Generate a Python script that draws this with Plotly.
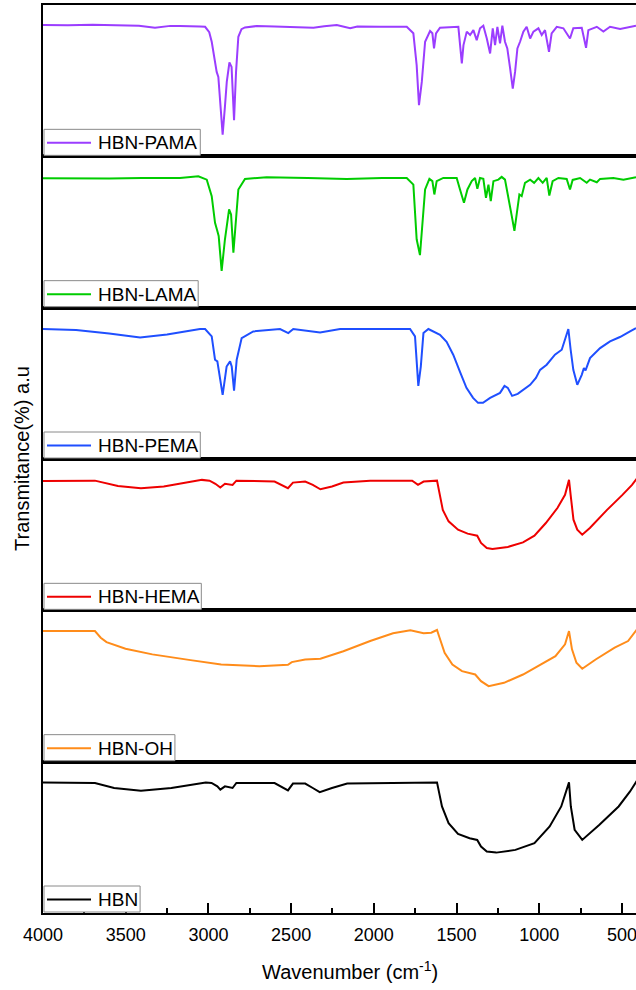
import plotly.graph_objects as go
from plotly.subplots import make_subplots

# FTIR spectra (wavenumber in cm-1, transmittance in arbitrary units per panel)
WN_PAMA = [4000, 3850, 3700, 3550, 3420, 3323, 3230, 3172, 3100, 3051, 3020, 2995, 2980, 2960, 2950, 2940,
           2928, 2914, 2900, 2889, 2873, 2860, 2845, 2833, 2819, 2800, 2779, 2708, 2600, 2500, 2365, 2300,
           2224, 2143, 2100, 1962, 1801, 1761, 1741, 1727, 1710, 1690, 1660, 1646, 1636, 1624, 1600, 1489,
           1468, 1458, 1438, 1418, 1398, 1378, 1358, 1338, 1317, 1297, 1281, 1267, 1253, 1237, 1223, 1207,
           1193, 1176, 1160, 1146, 1132, 1116, 1096, 1076, 1055, 1035, 1005, 985, 965, 941, 925, 894,
           854, 814, 794, 743, 717, 703, 652, 612, 572, 511, 461, 415]
T_PAMA = [86.8, 86.6, 86.9, 86.5, 86.3, 85.0, 86.2, 86.1, 86.2, 85.8, 85.6, 82.0, 75.7, 60.3, 55.8, 52.5,
          35.0, 14.3, 33.0, 49.2, 62.0, 59.1, 23.8, 55.8, 79.0, 84.0, 85.2, 86.1, 85.8, 85.5, 85.0, 86.0,
          86.8, 84.6, 85.8, 85.6, 85.6, 81.3, 60.3, 33.8, 49.2, 75.7, 82.8, 81.3, 71.3, 81.3, 85.0, 85.6,
          61.4, 73.5, 82.4, 80.2, 83.4, 76.8, 84.6, 86.3, 77.9, 68.0, 84.6, 73.5, 85.6, 74.6, 86.3, 75.7,
          71.3, 58.1, 44.8, 55.8, 71.3, 75.7, 82.4, 85.6, 77.9, 82.4, 84.6, 80.2, 83.4, 69.1, 81.3, 85.6,
          84.6, 77.9, 84.6, 85.0, 71.7, 83.4, 85.6, 82.4, 85.6, 84.1, 85.0, 86.3]

WN_LAMA = [4000, 3800, 3600, 3400, 3200, 3172, 3061, 3010, 2980, 2960, 2946, 2938, 2920, 2900, 2875, 2863,
           2849, 2835, 2819, 2779, 2648, 2400, 2164, 1950, 1801, 1761, 1741, 1721, 1707, 1690, 1664, 1646,
           1634, 1620, 1580, 1499, 1479, 1455, 1434, 1408, 1388, 1374, 1358, 1338, 1322, 1307, 1293, 1277,
           1247, 1227, 1207, 1187, 1166, 1150, 1136, 1120, 1106, 1086, 1055, 1031, 1005, 979, 955, 939,
           919, 884, 834, 814, 798, 753, 713, 693, 652, 632, 552, 491, 415]
T_LAMA = [85.5, 85.7, 85.4, 85.6, 85.7, 85.7, 86.8, 84.6, 73.7, 56.1, 50.7, 47.4, 24.3, 45.2, 64.9, 61.6,
          36.4, 56.1, 78.1, 85.1, 86.2, 85.6, 85.1, 85.7, 85.7, 81.3, 45.2, 34.7, 56.1, 78.1, 85.1, 83.6,
          74.8, 83.6, 85.7, 85.7, 78.1, 69.3, 78.1, 83.6, 85.7, 78.5, 85.7, 85.1, 72.6, 81.3, 70.4, 83.6,
          84.6, 86.4, 84.6, 73.7, 60.5, 50.7, 60.5, 74.8, 73.7, 82.5, 84.6, 82.5, 85.7, 82.5, 85.7, 74.1,
          83.6, 85.7, 85.1, 78.1, 84.4, 85.7, 82.5, 84.6, 82.9, 85.1, 85.7, 84.6, 86.2]

WN_PEMA = [4000, 3800, 3600, 3413, 3250, 3172, 3051, 3020, 2980, 2960, 2946, 2914, 2890, 2869, 2859, 2845,
           2829, 2799, 2729, 2567, 2517, 2487, 2400, 2325, 2204, 1950, 1781, 1751, 1741, 1731, 1716, 1700,
           1670, 1640, 1600, 1560, 1520, 1479, 1440, 1400, 1370, 1340, 1297, 1237, 1210, 1190, 1164, 1130,
           1090, 1055, 1020, 995, 955, 905, 864, 838, 824, 810, 794, 770, 743, 730, 720, 693, 632, 572,
           512, 451, 415]
T_PEMA = [85.9, 85.2, 83.0, 80.3, 82.2, 83.6, 85.9, 85.9, 81.0, 65.6, 64.5, 42.4, 61.1, 64.5, 61.1, 45.2,
          65.6, 79.9, 84.3, 85.9, 83.2, 85.9, 84.8, 83.6, 85.9, 86.0, 85.9, 81.0, 61.1, 48.3, 61.1, 83.2,
          85.9, 84.3, 82.1, 77.5, 68.9, 57.6, 47.0, 40.4, 37.1, 37.1, 40.4, 43.7, 48.3, 47.0, 41.7, 43.0,
          46.4, 49.0, 53.6, 58.9, 62.3, 68.9, 72.2, 81.0, 85.9, 72.2, 58.9, 49.0, 55.6, 60.1, 58.6, 66.7,
          73.3, 77.7, 80.6, 84.3, 86.5]

WN_HEMA = [4000, 3686, 3547, 3408, 3270, 3039, 2993, 2958, 2928, 2900, 2854, 2831, 2600, 2554, 2519, 2489,
           2415, 2369, 2323, 2253, 2184, 2022, 1768, 1733, 1699, 1618, 1606, 1583, 1548, 1491, 1433, 1375,
           1352, 1317, 1283, 1190, 1098, 1029, 960, 890, 844, 832, 820, 809, 793, 770, 740, 694, 590,
           497, 439, 409]
T_HEMA = [85.5, 85.7, 82.2, 80.7, 81.8, 86.2, 85.7, 83.6, 81.1, 83.6, 82.9, 85.7, 85.1, 82.9, 80.7, 84.4,
          85.1, 82.9, 80.0, 81.8, 84.4, 85.7, 85.7, 82.9, 85.1, 85.7, 79.6, 66.4, 58.8, 53.3, 50.7, 49.3,
          44.5, 41.2, 40.6, 41.9, 44.9, 49.3, 57.7, 67.6, 76.3, 80.7, 86.2, 75.2, 59.9, 53.3, 50.0, 54.4,
          66.4, 76.3, 82.9, 87.3]

WN_OH = [4000, 3686, 3651, 3616, 3501, 3339, 3108, 2923, 2692, 2519, 2496, 2415, 2323, 2184, 2022, 1884,
         1779, 1699, 1653, 1618, 1606, 1572, 1525, 1467, 1387, 1352, 1306, 1213, 1098, 982, 902, 844,
         820, 802, 775, 740, 659, 544, 463, 409]
T_OH = [86.3, 86.3, 81.9, 79.0, 74.6, 70.9, 67.1, 64.2, 63.1, 64.0, 65.8, 67.5, 68.0, 73.0, 79.7, 84.8,
        86.8, 84.8, 85.2, 87.0, 83.0, 72.0, 64.2, 59.8, 57.6, 53.2, 49.9, 52.1, 57.6, 64.9, 69.7, 77.5,
        86.3, 74.2, 65.4, 61.4, 67.5, 75.3, 79.7, 87.4]

WN_HBN = [4000, 3686, 3570, 3408, 3224, 3016, 2981, 2946, 2928, 2900, 2854, 2831, 2600, 2554, 2519, 2489,
          2415, 2369, 2327, 2253, 2161, 1618, 1606, 1588, 1548, 1491, 1421, 1375, 1352, 1317, 1260, 1144,
          1029, 937, 867, 832, 820, 809, 786, 740, 636, 520, 451, 409]
T_HBN = [86.3, 85.9, 82.6, 80.8, 82.6, 86.3, 85.9, 83.7, 81.5, 83.7, 82.6, 85.9, 85.9, 83.2, 81.0, 85.5,
         85.5, 82.6, 79.9, 82.6, 85.5, 86.3, 79.3, 70.4, 59.4, 52.3, 49.4, 48.3, 43.9, 40.6, 39.9, 41.7,
         46.2, 57.2, 70.4, 81.5, 86.3, 70.4, 55.0, 48.3, 58.3, 70.4, 80.3, 87.6]

# panels from top to bottom
NAMES = ["HBN-PAMA", "HBN-LAMA", "HBN-PEMA", "HBN-HEMA", "HBN-OH", "HBN"]
WAVENUMBERS = [WN_PAMA, WN_LAMA, WN_PEMA, WN_HEMA, WN_OH, WN_HBN]
TRANSMITTANCE = [T_PAMA, T_LAMA, T_PEMA, T_HEMA, T_OH, T_HBN]
COLORS = ["#9B3DFF", "#00CC00", "#1F4FFF", "#EE0000", "#FF8C1A", "#000000"]

FONT = "Arial, 'Liberation Sans', sans-serif"
W, H = 636, 990
ML, MR, MT, MB = 43, 0, 5, 77
PW, PH = W - ML - MR, H - MT - MB
n = len(NAMES)

# approximate Arial advance widths (em) for sizing the legend boxes
ARIAL_EM = {"H": 0.722, "B": 0.667, "N": 0.722, "-": 0.333, "P": 0.667, "A": 0.667,
            "M": 0.833, "L": 0.556, "E": 0.667, "O": 0.778}
LEG_FONT = 19


def px_x(p):
    return (p - ML) / PW


def px_y(p):
    return (MT + PH - p) / PH


fig = make_subplots(rows=n, cols=1, shared_xaxes=True, vertical_spacing=0)

shapes, annotations = [], []
panel_h = PH / n
for i in range(n):
    row = i + 1
    fig.add_trace(
        go.Scatter(x=WAVENUMBERS[i], y=TRANSMITTANCE[i], mode="lines", name=NAMES[i],
                   line=dict(color=COLORS[i], width=2), showlegend=False),
        row=row, col=1)
    fig.update_yaxes(range=[0, 100], showline=True, linecolor="black", linewidth=2,
                     showticklabels=False, ticks="", showgrid=False, zeroline=False,
                     row=row, col=1)
    fig.update_xaxes(range=[4000, 415], showline=True, linecolor="black", linewidth=2,
                     mirror=True, showgrid=False, zeroline=False, ticks="",
                     row=row, col=1)

    # legend box in the lower-left corner of each panel
    bottom = MT + panel_h * row
    top = bottom - 27
    text_w = sum(ARIAL_EM.get(c, 0.6) for c in NAMES[i]) * LEG_FONT
    right = 97 + text_w + 3
    mid = (top + bottom) / 2
    shapes.append(dict(type="rect", xref="paper", yref="paper", layer="above",
                       x0=px_x(44), x1=px_x(right), y0=px_y(bottom - 1), y1=px_y(top),
                       fillcolor="white", line=dict(color="#8a8a8a", width=1)))
    shapes.append(dict(type="line", xref="paper", yref="paper", layer="above",
                       x0=px_x(47), x1=px_x(91), y0=px_y(mid), y1=px_y(mid),
                       line=dict(color=COLORS[i], width=2)))
    annotations.append(dict(text=NAMES[i], xref="paper", yref="paper",
                            x=px_x(96), y=px_y(mid), xanchor="left", yanchor="middle",
                            showarrow=False,
                            font=dict(family=FONT, size=LEG_FONT, color="black")))

# bottom axis with ticks and labels
fig.update_xaxes(
    ticks="inside", ticklen=10, tickwidth=2, tickcolor="black",
    tickmode="linear", tick0=500, dtick=500, showticklabels=True,
    ticklabeloverflow="allow", ticklabelstandoff=4,
    tickfont=dict(family=FONT, size=18, color="black"),
    minor=dict(ticks="inside", ticklen=5, tickwidth=2, tickcolor="black", dtick=250, tick0=250),
    row=n, col=1)

annotations.append(dict(
    text="Wavenumber (cm<sup>-1</sup>)", xref="paper", yref="paper",
    x=px_x(350), y=px_y(970), xanchor="center", yanchor="middle",
    showarrow=False, font=dict(family=FONT, size=20, color="black")))
annotations.append(dict(
    text="Transmitance(%) a.u", xref="paper", yref="paper",
    x=px_x(22), y=0.5, xanchor="center", yanchor="middle", textangle=-90,
    showarrow=False, font=dict(family=FONT, size=20, color="black")))

fig.update_layout(
    width=W, height=H,
    margin=dict(l=ML, r=MR, t=MT, b=MB, autoexpand=False),
    paper_bgcolor="white", plot_bgcolor="white",
    showlegend=False,
    shapes=shapes, annotations=annotations,
)

fig.write_html("out.html")
